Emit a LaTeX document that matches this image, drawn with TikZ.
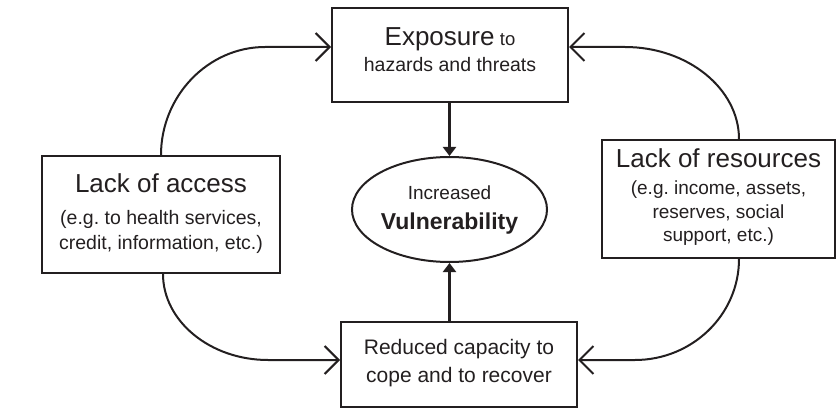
\documentclass[tikz,border=0pt]{standalone}
\usepackage{fontspec}
\setmainfont{Liberation Sans}
\usetikzlibrary{arrows.meta,shapes.geometric}
\definecolor{ink}{HTML}{231F20}
\tikzset{
  boxnode/.style={draw=ink, line width=2pt, rectangle, inner sep=0pt, align=center, text=ink},
  curve/.style={draw=ink, line width=2pt, -{Straight Barb[length=14pt,width=28pt,line width=2pt]}},
  thick arrow/.style={draw=ink, line width=3.5pt, -{Triangle[length=9pt,width=13pt]}}
}
\frenchspacing
\begin{document}
\begin{tikzpicture}[x=1pt,y=-1pt]
\useasboundingbox (0,0) rectangle (836,409);
% boxes
\node[boxnode, minimum width=236pt, minimum height=94pt, text depth=11pt,
  font=\fontsize{19.5}{26}\selectfont] (tb) at (450,55)
  {{\fontsize{26}{26}\selectfont Exposure} {\fontsize{18.5}{26}\selectfont to}\\hazards and threats};
\node[boxnode, minimum width=238pt, minimum height=117pt, text depth=5pt,
  font=\fontsize{19.5}{25}\selectfont\frenchspacing] (lb) at (161,214.5)
  {{\fontsize{26}{26}\selectfont Lack of access}\\[7pt](e.g. to health services,\\credit, information, etc.)};
\node[boxnode, minimum width=233pt, minimum height=118pt, text depth=7pt,
  font=\fontsize{19}{23.5}\selectfont\frenchspacing] (rb) at (718.5,199)
  {{\fontsize{26}{26}\selectfont Lack of resources}\\[3.5pt](e.g. income, assets,\\reserves, social\\support, etc.)};
\node[boxnode, minimum width=236pt, minimum height=85pt, text depth=6.3pt,
  font=\fontsize{21}{28}\selectfont] (bb) at (459,364.5)
  {Reduced capacity to\\cope and to recover};
\node[draw=ink, line width=2pt, ellipse, inner sep=0pt, minimum width=195pt, minimum height=105pt,
  align=center, text=ink, text depth=3pt, font=\fontsize{19}{30}\selectfont] (el) at (449.5,209.5)
  {Increased\\{\bfseries\fontsize{23}{30}\selectfont Vulnerability}};
% thick arrows
\draw[thick arrow] (tb.south -| el.north) -- (el.north);
\draw[thick arrow] (el.south |- bb.north) -- (el.south);
% curved connectors
\draw[curve] (lb.north) .. controls (161,96) and (208,47) .. (265,47) -- ([yshift=8pt]tb.west);
\draw[curve] ([xshift=20.5pt]rb.north) .. controls (739,89) and (688,47) .. (625,47) -- ([yshift=8pt]tb.east);
\draw[curve] ([xshift=2pt]lb.south) .. controls (163,321) and (210,360) .. (268,360) -- ([yshift=4.5pt]bb.west);
\draw[curve] ([xshift=20.5pt]rb.south) .. controls (739,315) and (692,360) .. (635,360) -- ([yshift=4.5pt]bb.east);
\end{tikzpicture}
\end{document}
